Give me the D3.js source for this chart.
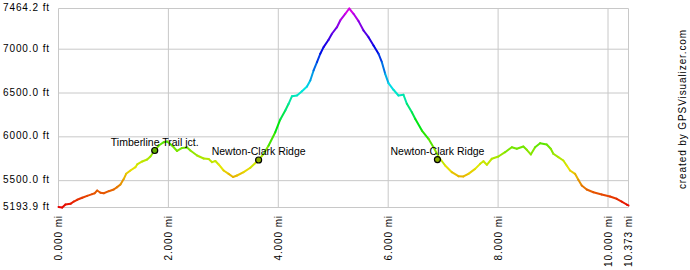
<!DOCTYPE html>
<html>
<head>
<meta charset="utf-8">
<script src="https://cdn.jsdelivr.net/npm/d3@7"></script>
<style>
  body { margin: 0; background: #fff; }
  svg text { font-family: "Liberation Sans", Arial, sans-serif; fill: #000; }
</style>
</head>
<body>
<div id="chart"></div>
<script>
// track profile (distance in miles, elevation in feet)
const miles = [0.000, 0.067, 0.127, 0.218, 0.278, 0.340, 0.431, 0.522, 0.613, 0.660,
  0.704, 0.764, 0.824, 0.915, 1.005, 1.067, 1.127, 1.189, 1.231, 1.309,
  1.400, 1.431, 1.524, 1.613, 1.673, 1.751, 1.825, 1.915, 1.976, 2.067,
  2.158, 2.249, 2.340, 2.400, 2.522, 2.642, 2.733, 2.795, 2.855, 2.915,
  3.005, 3.096, 3.176, 3.249, 3.369, 3.491, 3.642, 3.733, 3.824, 3.945,
  4.036, 4.127, 4.187, 4.249, 4.340, 4.431, 4.522, 4.582, 4.642, 4.704,
  4.764, 4.824, 4.915, 4.976, 5.067, 5.127, 5.218, 5.291, 5.369, 5.460,
  5.551, 5.642, 5.733, 5.824, 5.885, 5.945, 6.005, 6.096, 6.187, 6.278,
  6.340, 6.431, 6.491, 6.613, 6.733, 6.824, 6.915, 7.036, 7.158, 7.278,
  7.369, 7.460, 7.582, 7.673, 7.733, 7.795, 7.885, 8.005, 8.127, 8.249,
  8.340, 8.460, 8.522, 8.595, 8.673, 8.764, 8.885, 8.958, 9.005, 9.096,
  9.187, 9.249, 9.309, 9.400, 9.460, 9.522, 9.613, 9.733, 9.885, 10.036,
  10.158, 10.249, 10.340, 10.373];
const elevations = [5200, 5193.9, 5228, 5236, 5262, 5282, 5305, 5327, 5346, 5357,
  5388, 5362, 5357, 5380, 5399, 5426, 5456, 5521, 5578, 5616,
  5654, 5685, 5719, 5742, 5776, 5844, 5901, 5939, 5947, 5901,
  5839, 5873, 5878, 5844, 5787, 5753, 5747, 5711, 5724, 5685,
  5616, 5578, 5542, 5559, 5597, 5647, 5736, 5807, 5901, 6053,
  6198, 6301, 6377, 6464, 6472, 6521, 6575, 6643, 6757, 6852,
  6948, 7023, 7107, 7176, 7251, 7328, 7404, 7464.2, 7404, 7320,
  7213, 7137, 7042, 6948, 6852, 6719, 6612, 6537, 6472, 6480,
  6377, 6281, 6206, 6072, 5977, 5882, 5776, 5673, 5597, 5551,
  5548, 5578, 5635, 5692, 5722, 5681, 5750, 5776, 5825, 5882,
  5864, 5890, 5852, 5799, 5882, 5928, 5913, 5864, 5807, 5768,
  5730, 5673, 5616, 5578, 5510, 5445, 5399, 5368, 5342, 5319,
  5293, 5262, 5228, 5217];

// waypoints
const waypointNames = ["Timberline Trail jct.", "Newton-Clark Ridge", "Newton-Clark Ridge"];
const waypointMiles = [1.751, 3.642, 6.896];
const waypointElevations = [5844, 5736, 5741];

// axis ticks
const xTicks = [0, 2, 4, 6, 8, 10, 10.373];
const yTicks = [5193.9, 5500, 6000, 6500, 7000, 7464.2];

const width = 690, height = 270;
const svg = d3.select("#chart").append("svg")
  .attr("width", width)
  .attr("height", height);

const x = d3.scaleLinear().domain([0, 10.373]).range([58.5, 628.5]);
const y = d3.scaleLinear().domain([5193.9, 7464.2]).range([207.5, 8.5]);

// elevation -> hue (red at the bottom, magenta at the top)
const hue = d3.scaleLinear().domain([5193.9, 7464.2]).range([0, 300]);
const colorAt = e => d3.hsl(hue(e), 1, 0.45).formatHex();

// gridlines
svg.append("g")
  .selectAll("line.h")
  .data(yTicks)
  .join("line")
  .attr("x1", x(0)).attr("x2", x(10.373))
  .attr("y1", d => y(d)).attr("y2", d => y(d))
  .attr("stroke", "#c8c8c8").attr("stroke-width", 1);

svg.append("g")
  .selectAll("line.v")
  .data(xTicks)
  .join("line")
  .attr("x1", d => x(d)).attr("x2", d => x(d))
  .attr("y1", y(7464.2)).attr("y2", y(5193.9))
  .attr("stroke", "#c8c8c8").attr("stroke-width", 1);

// y labels
svg.append("g")
  .selectAll("text")
  .data(yTicks)
  .join("text")
  .attr("x", 50)
  .attr("y", d => y(d) - 1)
  .attr("dy", "0.35em")
  .attr("text-anchor", "end")
  .style("font-size", "10px")
  .style("letter-spacing", "0.9px")
  .text(d => d3.format(".1f")(d) + " ft");

// x labels (rotated)
svg.append("g")
  .selectAll("text")
  .data(xTicks)
  .join("text")
  .attr("transform", d => `translate(${x(d)},215) rotate(-90)`)
  .attr("dy", "0.35em")
  .attr("text-anchor", "end")
  .style("font-size", "10px")
  .style("letter-spacing", "0.9px")
  .text(d => d3.format(".3f")(d) + " mi");

// profile, one segment per pair of points, coloured by elevation
const pts = miles.map((m, i) => ({ m, e: elevations[i] }));
const segs = d3.pairs(pts);
svg.append("g")
  .selectAll("line")
  .data(segs)
  .join("line")
  .attr("x1", d => x(d[0].m)).attr("y1", d => y(d[0].e))
  .attr("x2", d => x(d[1].m)).attr("y2", d => y(d[1].e))
  .attr("stroke", d => colorAt((d[0].e + d[1].e) / 2))
  .attr("stroke-width", 2)
  .attr("stroke-linecap", "round");

// waypoint markers + labels
const wp = svg.append("g");
waypointNames.forEach((name, i) => {
  const cx = x(waypointMiles[i]), cy = y(waypointElevations[i]);
  wp.append("circle")
    .attr("cx", cx).attr("cy", cy).attr("r", 3)
    .attr("fill", d3.color(colorAt(waypointElevations[i])).darker(0.8))
    .attr("stroke", "#000").attr("stroke-width", 1.2);
  wp.append("text")
    .attr("x", cx).attr("y", cy - 5)
    .attr("text-anchor", "middle")
    .style("font-size", "10.5px")
    .text(name);
});

// credit
svg.append("text")
  .attr("transform", "translate(682,109) rotate(-90)")
  .attr("dy", "0.35em")
  .attr("text-anchor", "middle")
  .style("font-size", "10px")
  .style("letter-spacing", "0.9px")
  .text("created by GPSVisualizer.com");
</script>
</body>
</html>
